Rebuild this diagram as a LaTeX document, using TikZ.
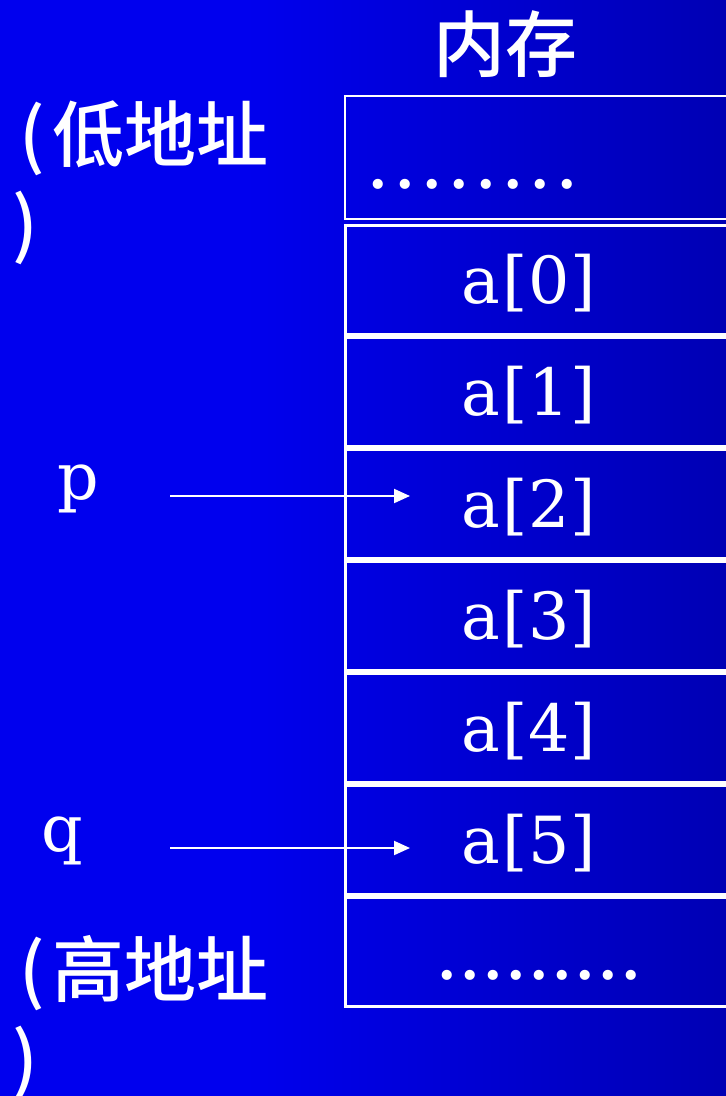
\documentclass[tikz,border=0pt]{standalone}
\usepackage{fontspec}
\newfontfamily\cjk{Noto Sans CJK SC Medium}
\newfontfamily\cellfont{DejaVu Serif}
\newfontfamily\dotfont{Liberation Serif}
\usetikzlibrary{arrows.meta}
\definecolor{bgL}{RGB}{0,0,238}
\definecolor{bgR}{RGB}{0,0,180}
\pgfdeclarehorizontalshading{slidebg}{100bp}{color(0bp)=(bgL); color(25bp)=(bgL); color(42bp)=(bgL); color(75bp)=(bgR); color(100bp)=(bgR)}
\newcommand\monocell[1]{\makebox[34pt]{a}\makebox[34pt]{[}\makebox[34pt]{#1}\makebox[34pt]{]}}
\newcommand\dotrow[2]{\foreach \k in {1,...,#1}{\makebox[#2]{.}}}
\begin{document}
\begin{tikzpicture}[x=1pt,y=-1pt,
  cellbox/.style={draw=white,line width=3pt},
  celltext/.style={text=white,font=\cellfont\fontsize{65}{65}\selectfont,inner sep=0pt},
  dots/.style={text=white,inner sep=0pt,anchor=base west,font=\dotfont\bfseries\fontsize{62}{62}\selectfont},
  lbl/.style={text=white,font=\cjk\fontsize{72}{89}\selectfont,inner sep=0pt,align=left},
  ptr/.style={draw=white,line width=2pt,-{Triangle[length=16pt,width=14pt]}}]
\useasboundingbox (0,0) rectangle (726,1096);
\clip (0,0) rectangle (726,1096);
\shade[shading=slidebg] (0,0) rectangle (726,1096);
% title
\node[lbl,anchor=center] (mem) at (505,44) {内存};
% top box
\draw[draw=white,line width=2.5pt] (345,96) rectangle (760,219);
\node[dots] (dtop) at (364.5,188) {\dotrow{8}{27pt}};
% cells
\foreach \i in {0,...,6} {
  \draw[cellbox] (345,{224+112*\i+1.5}) rectangle (760,{336+112*\i-1.5});
}
\foreach \i in {0,...,5} {
  \node[celltext] (a\i) at (532,{283+112*\i}) {\monocell{\i}};
}
\node[dots] (dbot) at (435.5,979) {\dotrow{9}{23pt}};
% labels
\node[lbl,anchor=north west] (lo) at (12,101) {\makebox[40pt]{(}低地址\\)};
\node[lbl,anchor=north west] (hi) at (12,935) {\makebox[40pt]{(}高地址\\)};
\node[celltext,anchor=base] (p) at (78,499) {p};
\node[celltext,anchor=base] (q) at (62,851) {q};
% pointers
\coordinate (ps) at (170,496);
\coordinate (pe) at (410,496);
\coordinate (qs) at (170,848);
\coordinate (qe) at (410,848);
\draw[ptr] (ps) -- (pe);
\draw[ptr] (qs) -- (qe);
\end{tikzpicture}
\end{document}
